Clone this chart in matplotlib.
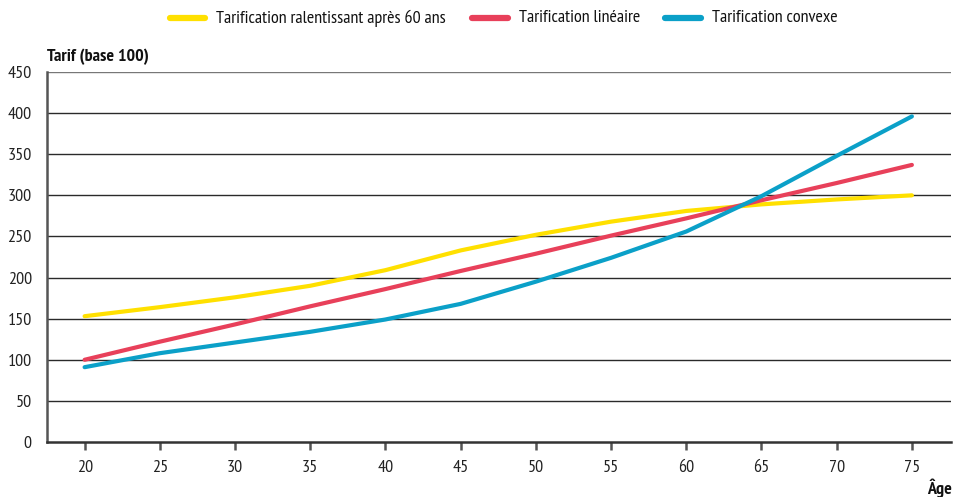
import matplotlib
matplotlib.use("Agg")
import matplotlib.pyplot as plt
from matplotlib import font_manager as fm
from matplotlib.lines import Line2D

ages = [20, 25, 30, 35, 40, 45, 50, 55, 60, 65, 70, 75]
ralentissant = [153, 164, 176, 190, 209, 233, 252, 268, 281, 289, 295, 300]
lineaire = [100, 122, 143, 165, 186, 208, 229, 251, 272, 294, 315, 337]
convexe = [91, 108, 121, 134, 149, 168, 195, 224, 256, 299, 348, 396]
series_labels = ["Tarification ralentissant après 60 ans", "Tarification linéaire", "Tarification convexe"]
yticks = [0, 50, 100, 150, 200, 250, 300, 350, 400, 450]
xticks = [20, 25, 30, 35, 40, 45, 50, 55, 60, 65, 70, 75]

names = {f.name for f in fm.fontManager.ttflist}
fam = "DejaVu Sans"
for cand in ["PT Sans Narrow", "Fira Sans Condensed", "Roboto Condensed", "Archivo Narrow",
             "Liberation Sans Narrow", "Encode Sans Condensed", "IBM Plex Sans Condensed"]:
    if cand in names:
        fam = cand
        break
plt.rcParams['font.family'] = [fam, 'DejaVu Sans']

FS = 13
W, H = 954, 497
fig = plt.figure(figsize=(W / 100, H / 100), dpi=100)
ax = fig.add_axes([47 / W, 1 - 442 / H, (951 - 47) / W, (442 - 72) / H])

colors = ["#FFE000", "#E8405A", "#0BA0C8"]
for vals, lab, c in zip([ralentissant, lineaire, convexe], series_labels, colors):
    ax.plot(ages, vals, color=c, lw=3.0, label=lab, solid_capstyle='round', zorder=3)

ax.set_xlim(17.5, 77.6)
ax.set_ylim(0, 450)
ax.set_yticks(yticks)
ax.set_xticks(xticks)
for y in yticks[1:]:
    ax.axhline(y, color="#2a2a2a" if y < 450 else "#777777", lw=1.0, zorder=1)

for s in ["top", "right"]:
    ax.spines[s].set_visible(False)
ax.spines["left"].set_color("#555555")
ax.spines["bottom"].set_color("#333333")
ax.spines["left"].set_linewidth(1.8)
ax.spines["bottom"].set_linewidth(1.8)
ax.tick_params(axis='y', length=0, pad=11, labelsize=FS, labelcolor="#222222")
ax.tick_params(axis='x', direction='out', length=6, width=1.8, color="#555555",
               pad=7, labelsize=FS, labelcolor="#222222")

fig.text(47 / W, 1 - 57 / H, "Tarif (base 100)", fontsize=FS, color="#111111",
         ha="left", va="center", fontweight="semibold")
fig.text(952 / W, 1 - 488 / H, "Âge", fontsize=FS, color="#111111", ha="right", va="center",
         fontweight="semibold")

# legend drawn in figure coordinates
leg_handles = [(170, 205, 216), (472, 508, 519), (665, 701, 712)]
ly = 1 - 18 / H
for (x0, x1, xt), lab, c in zip(leg_handles, series_labels, colors):
    fig.add_artist(Line2D([x0 / W, x1 / W], [ly, ly], color=c, lw=4.5,
                          solid_capstyle='round', transform=fig.transFigure))
    fig.text(xt / W, ly, lab, fontsize=FS, color="#111111", ha="left", va="center")

fig.savefig("out.png", dpi=100)
